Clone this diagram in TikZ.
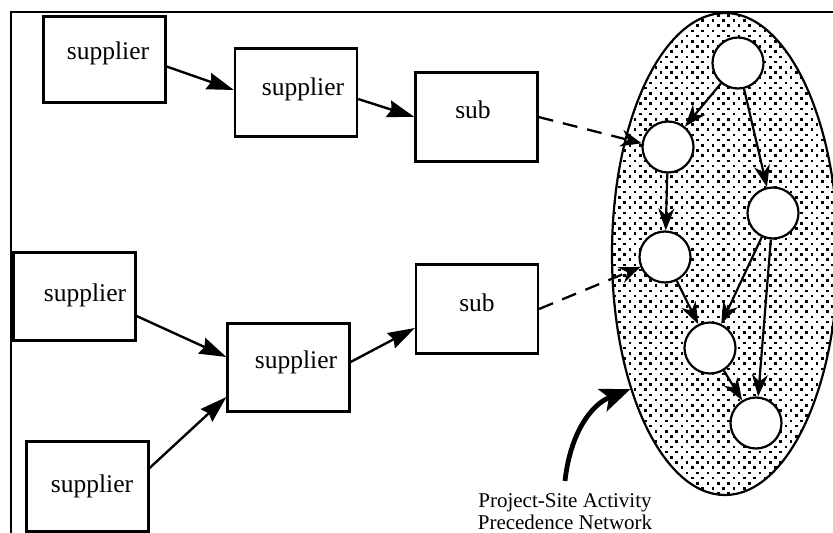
\documentclass[tikz,border=0pt]{standalone}
\usepackage{fontspec}
\setmainfont{Liberation Serif}
\usetikzlibrary{arrows.meta,shapes.geometric,calc}
\begin{document}
\begin{tikzpicture}[x=1pt,y=-1pt,
  box/.style={draw,line width=2.2pt,minimum width=122pt,minimum height=88pt,inner sep=0pt},
  btext/.style={font=\fontsize{25.5}{30}\selectfont,anchor=base,inner sep=0pt},
  ltext/.style={font=\fontsize{21}{24}\selectfont,anchor=base,inner sep=0pt},
  act/.style={circle,draw,fill=white,line width=2.2pt,minimum size=51pt,inner sep=0pt},
  flow/.style={line width=2.4pt,-{Stealth[length=27pt,width=17pt,inset=3pt]}},
  link/.style={line width=2.3pt,dash pattern=on 15pt off 10pt,-{Stealth[length=21pt,width=17pt,inset=7pt]}},
  prec/.style={line width=2.2pt,-{Stealth[length=22pt,width=16pt,inset=7pt]}},
  net/.style={ellipse,draw,line width=2.2pt,minimum width=226pt,minimum height=482pt,inner sep=0pt},
  dot/.style={fill=black},
]
\useasboundingbox (0,0) rectangle (833,533);
\clip (0,0) rectangle (833,533);
\fill[white] (0,0) rectangle (833,533);
% frame
\draw[line width=2.2pt] (11,534) -- (11,12) -- (834,12);

% network ellipse with dotted fill
\begin{scope}
  \clip (725,254) ellipse [x radius=113, y radius=241];
  \foreach \r in {0,...,92} {
    \foreach \c in {0,...,22} {
      \fill[dot] ({613+\c*10.4+mod(\r,2)*5.2},{14+\r*5.2}) rectangle +(2.5,2.5);
    }
  }
\end{scope}
\node[net] (net) at (725,254) {};

% boxes
\node[box,minimum height=86pt] (s1) at (104.5,59.5) {};
\node[box] (s2) at (296,92.5) {};
\node[box,minimum height=89pt] (sub1) at (476.5,117) {};
\node[box,minimum height=89pt] (sub2) at (477,309) {};
\node[box] (s3) at (74.5,296.5) {};
\node[box] (s4) at (288.5,367.5) {};
\node[box,minimum height=90pt] (s5) at (87.5,486.5) {};

\node[btext] (s1t) at (108,59) {supplier};
\node[btext] (s2t) at (303,95) {supplier};
\node[btext] (sub1t) at (473,118) {sub};
\node[btext] (sub2t) at (477,311) {sub};
\node[btext] (s3t) at (85,301) {supplier};
\node[btext] (s4t) at (296,368) {supplier};
\node[btext] (s5t) at (92,492) {supplier};

% activity circles
\node[act] (c1) at (738,63) {};
\node[act] (c2) at (668,147) {};
\node[act] (c3) at (665,257) {};
\node[act] (c4) at (773,213) {};
\node[act] (c5) at (710,348) {};
\node[act] (c6) at (756,423) {};

% supply chain arrows
\draw[flow] ([yshift=-7pt]s1.east) -- ([yshift=2.5pt]s2.west);
\draw[flow] ([yshift=-6.5pt]s2.east) -- (sub1.west);
\draw[flow] ([yshift=-19.5pt]s3.east) -- ([yshift=10.5pt]s4.west);
\draw[flow] ([yshift=18.5pt]s5.east) -- ([yshift=-29.5pt]s4.west);
\draw[flow] ([yshift=5.5pt]s4.east) -- ([yshift=-19pt]sub2.west);

% dashed links into network
\draw[link] (sub1.east) -- (c2.172);
\draw[link] (sub2.east) -- (c3.202);

% precedence arrows
\draw[prec] (c1) -- (c2);
\draw[prec] (c1) -- (c4);
\draw[prec] (c2) -- (c3);
\draw[prec] (c3) -- (c5);
\draw[prec] (c4) -- (c5);
\draw[prec] (c4) -- (c6);
\draw[prec] (c5) -- (c6);

% label
\node[ltext] (lbl1) at (565,507) {Project-Site Activity};
\node[ltext] (lbl2) at (565,529) {Precedence Network};
\draw[line width=4.8pt,-{Stealth[length=30pt,width=24pt,inset=7pt]}]
  ([yshift=12pt]lbl1.north) .. controls (570,435) and (590,405) .. (net.235);
\end{tikzpicture}
\end{document}
